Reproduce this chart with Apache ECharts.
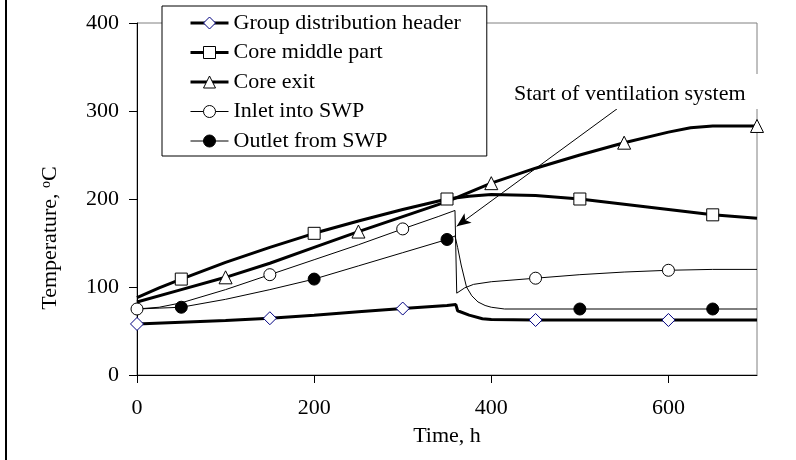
<!DOCTYPE html>
<html>
<head>
<meta charset="utf-8">
<script src="https://cdn.jsdelivr.net/npm/echarts@6/dist/echarts.min.js"></script>
<style>
html,body{margin:0;padding:0;background:#fff;}
#chart{width:796px;height:460px;}
</style>
</head>
<body>
<div id="chart"></div>
<script>
// ---- data ----
const xTicks = [0, 200, 400, 600];
const yTicks = [0, 100, 200, 300, 400];

const headerHours = [0, 50, 100, 150, 200, 250, 300, 350, 360, 362, 375, 390, 400, 450, 500, 550, 600, 650, 700];
const headerTemps = [58, 60, 62, 64.5, 68, 72, 75.5, 79, 80, 73, 68, 64, 63, 62.5, 62.5, 62.5, 62.5, 62.5, 62.5];
const headerMarkers = [0, 150, 300, 450, 600];

const middleHours = [0, 25, 50, 100, 150, 200, 250, 300, 350, 375, 400, 450, 500, 550, 600, 650, 700];
const middleTemps = [88, 99, 109, 128, 145, 161, 175, 188, 200, 203, 205, 204, 200, 194, 188, 182, 178];
const middleMarkers = [50, 200, 350, 500, 650];

const exitHours = [0, 50, 100, 150, 200, 250, 300, 350, 400, 450, 500, 550, 600, 625, 650, 700];
const exitTemps = [83, 97, 111, 127, 145, 163, 180, 197, 218, 235, 250, 264, 276, 281, 283, 283];
const exitMarkers = [100, 250, 400, 550, 700];

const inletHours = [0, 25, 50, 100, 150, 200, 250, 300, 340, 359, 361, 370, 380, 400, 450, 500, 550, 600, 650, 700];
const inletTemps = [75, 77, 82, 97, 114, 131, 148, 166, 180, 187, 93, 99, 103, 106, 110, 114, 117, 119, 120, 120];
const inletMarkers = [0, 150, 300, 450, 600];

const outletHours = [0, 25, 50, 100, 150, 200, 250, 300, 350, 359, 362, 366, 372, 378, 385, 393, 400, 415, 500, 650, 700];
const outletTemps = [75, 76, 77, 86, 97, 109, 124, 139, 154, 158, 145, 125, 100, 90, 83, 79, 77, 75, 75, 75, 75];
const outletMarkers = [50, 200, 350, 500, 650];

const seriesNames = ['Group distribution header', 'Core middle part', 'Core exit', 'Inlet into SWP', 'Outlet from SWP'];
const annotationText = 'Start of ventilation system';
const arrowFrom = [559, 315];
const arrowTo = [361, 169];

// ---- helpers ----
const FONT = '"Liberation Serif", "Times New Roman", serif';
function build(hours, temps, markers) {
  return hours.map((h, i) => markers.indexOf(h) >= 0
    ? { value: [h, temps[i]] }
    : { value: [h, temps[i]], symbol: 'none' });
}
function mkSeries(name, hours, temps, markers, symbol, width, fill, border, size) {
  return {
    name: name, type: 'line', data: build(hours, temps, markers),
    symbol: symbol, symbolSize: size, clip: false,
    lineStyle: { color: '#000', width: width },
    itemStyle: { color: fill, borderColor: border, borderWidth: 1 },
    emphasis: { disabled: true }, z: 3
  };
}

const series = [
  mkSeries(seriesNames[0], headerHours, headerTemps, headerMarkers, 'diamond', 3, '#fff', '#000080', 13),
  mkSeries(seriesNames[1], middleHours, middleTemps, middleMarkers, 'rect', 3, '#fff', '#000', 12),
  mkSeries(seriesNames[2], exitHours, exitTemps, exitMarkers, 'triangle', 3, '#fff', '#000', 13),
  mkSeries(seriesNames[3], inletHours, inletTemps, inletMarkers, 'circle', 1, '#fff', '#000', 12),
  mkSeries(seriesNames[4], outletHours, outletTemps, outletMarkers, 'circle', 1, '#000', '#000', 12)
];
series[3].markLine = {
  silent: true, animation: false,
  symbol: ['none', 'arrow'], symbolSize: [9, 14],
  label: { show: false },
  lineStyle: { color: '#000', width: 1, type: 'solid' },
  data: [[{ coord: arrowFrom }, { coord: arrowTo }]]
};

const legendStyles = [
  { itemStyle: { color: '#fff', borderColor: '#000080', borderWidth: 1 }, lineStyle: { color: '#000', width: 3 } },
  { itemStyle: { color: '#fff', borderColor: '#000', borderWidth: 1 }, lineStyle: { color: '#000', width: 3 } },
  { itemStyle: { color: '#fff', borderColor: '#000', borderWidth: 1 }, lineStyle: { color: '#000', width: 3 } },
  { itemStyle: { color: '#fff', borderColor: '#000', borderWidth: 1 }, lineStyle: { color: '#000', width: 1 } },
  { itemStyle: { color: '#000', borderColor: '#000', borderWidth: 1 }, lineStyle: { color: '#000', width: 1 } }
];

const chart = echarts.init(document.getElementById('chart'), null, { renderer: 'canvas' });
chart.setOption({
  animation: false,
  backgroundColor: '#fff',
  textStyle: { fontFamily: FONT },
  grid: { left: 137, right: 39, top: 23, bottom: 85, show: true, borderColor: '#808080', borderWidth: 1, backgroundColor: 'transparent' },
  xAxis: {
    type: 'value', min: 0, max: 700, interval: 200,
    name: 'Time, h', nameLocation: 'middle', nameGap: 50,
    nameTextStyle: { fontFamily: FONT, fontSize: 22, color: '#000' },
    axisLine: { show: true, lineStyle: { color: '#000', width: 1 } },
    axisTick: { show: true, inside: false, length: 8, lineStyle: { color: '#000' } },
    axisLabel: { fontFamily: FONT, fontSize: 22, color: '#000', margin: 22, showMaxLabel: false,
      formatter: v => (xTicks.indexOf(v) >= 0 ? String(v) : '') },
    splitLine: { show: false }
  },
  yAxis: {
    type: 'value', min: 0, max: 400, interval: 100,
    axisLine: { show: true, lineStyle: { color: '#000', width: 1 } },
    axisTick: { show: true, inside: false, length: 8, lineStyle: { color: '#000' } },
    axisLabel: { fontFamily: FONT, fontSize: 22, color: '#000', margin: 18,
      formatter: v => (yTicks.indexOf(v) >= 0 ? String(v) : '') },
    splitLine: { show: false }
  },
  legend: {
    orient: 'vertical', left: 162, top: 6,
    padding: [6, 26, 4, 27], itemGap: 7.5, itemWidth: 38, itemHeight: 15, itemTextGap: 5,
    backgroundColor: '#fff', borderColor: '#000', borderWidth: 1, z: 10,
    selectedMode: false,
    textStyle: { fontFamily: FONT, fontSize: 22, color: '#000', lineHeight: 22 },
    data: seriesNames.map((n, i) => Object.assign({ name: n }, legendStyles[i]))
  },
  graphic: [
    { type: 'line', z: 100, shape: { x1: 6, y1: 0, x2: 6, y2: 460 }, style: { stroke: '#000', lineWidth: 2 } },
    { type: 'text', z: 100, x: 510, y: 74,
      style: { text: annotationText, font: '22px ' + FONT, fill: '#000', backgroundColor: '#fff', padding: [9, 22, 4, 4], lineHeight: 22 } },
    { type: 'text', z: 100, x: 50, y: 238, rotation: Math.PI / 2,
      style: { text: 'Temperature, {sup|o}C', font: '22px ' + FONT, fill: '#000', align: 'center', verticalAlign: 'middle',
        rich: { sup: { fontSize: 14, fontFamily: FONT, verticalAlign: 'top', lineHeight: 14, padding: [0, 0, 10, 0] } } } }
  ],
  series: series
});
</script>
</body>
</html>
